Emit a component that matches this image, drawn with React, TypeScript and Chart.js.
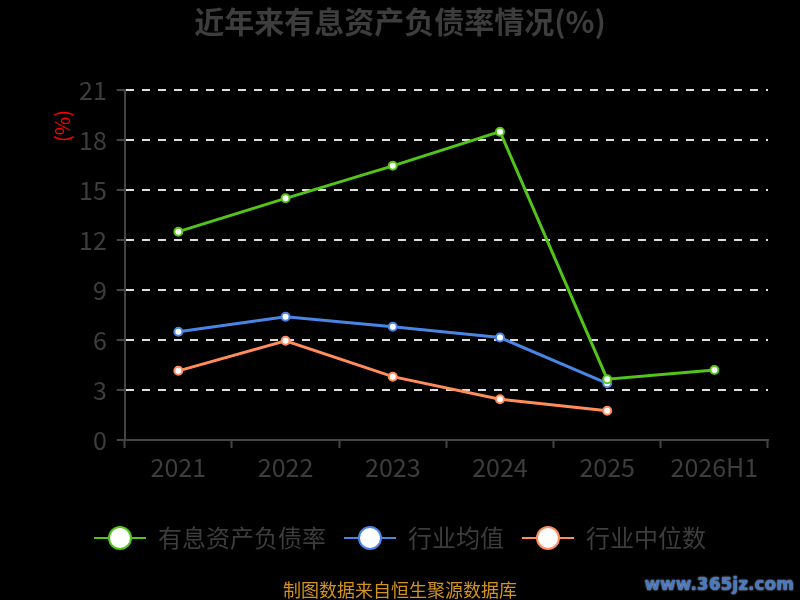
import React, { useEffect, useRef } from 'react';
import { Chart, registerables } from 'chart.js';

Chart.register(...registerables);

const categories = ['2021', '2022', '2023', '2024', '2025', '2026H1'];
const seriesNames = ['有息资产负债率', '行业均值', '行业中位数'];
const debtRatio = [12.5, 14.5, 16.45, 18.5, 3.65, 4.2];
const industryMean = [6.5, 7.4, 6.8, 6.15, 3.4, null];
const industryMedian = [4.15, 5.95, 3.8, 2.45, 1.75, null];
const seriesColors = ['#52c41a', '#4a85e6', '#ff8c5a'];
const yTicks = [0, 3, 6, 9, 12, 15, 18, 21];

const FONT = '"Noto Sans CJK SC", "Noto Sans", sans-serif';

// legend marker: short line with a big open circle
const makeMarker = (color: string) => {
  const c = document.createElement('canvas');
  c.width = 52;
  c.height = 26;
  const ctx = c.getContext('2d');
  if (ctx) {
    ctx.strokeStyle = color;
    ctx.lineWidth = 2;
    ctx.beginPath();
    ctx.moveTo(0, 13);
    ctx.lineTo(52, 13);
    ctx.stroke();
    ctx.beginPath();
    ctx.arc(26, 13, 11, 0, Math.PI * 2);
    ctx.fillStyle = '#ffffff';
    ctx.fill();
    ctx.lineWidth = 2;
    ctx.stroke();
  }
  return c;
};

const yTitlePlugin = {
  id: 'yTitle',
  afterDraw(chart: any) {
    const ctx = chart.ctx;
    ctx.save();
    ctx.translate(62, 126);
    ctx.rotate(-Math.PI / 2);
    ctx.fillStyle = '#ff0000';
    ctx.font = `20px ${FONT}`;
    ctx.textAlign = 'center';
    ctx.textBaseline = 'middle';
    ctx.fillText('(%)', 0, 0);
    ctx.restore();
  }
};

export default function App() {
  const chartRef = useRef<HTMLCanvasElement>(null);
  const chartInstance = useRef<Chart | null>(null);

  useEffect(() => {
    document.body.style.margin = '0';
    document.body.style.background = '#000';
    if (!chartRef.current) return;
    if (chartInstance.current) chartInstance.current.destroy();

    const markers = seriesColors.map(makeMarker);
    const mk = (i: number, data: (number | null)[]) => ({
      label: seriesNames[i],
      data,
      borderColor: seriesColors[i],
      backgroundColor: '#ffffff',
      borderWidth: 3,
      pointRadius: 4,
      pointBorderWidth: 2,
      pointBackgroundColor: '#ffffff',
      pointBorderColor: seriesColors[i],
      tension: 0,
      spanGaps: false
    });

    chartInstance.current = new Chart(chartRef.current, {
      type: 'line',
      data: {
        labels: categories,
        datasets: [mk(0, debtRatio), mk(1, industryMean), mk(2, industryMedian)]
      },
      options: {
        responsive: false,
        animation: false,
        layout: { padding: { left: 32, right: 32, top: 0, bottom: 40 } },
        plugins: {
          title: {
            display: true,
            text: '近年来有息资产负债率情况(%)',
            color: '#3d3d3d',
            font: { family: FONT, size: 30, weight: 'bold' },
            padding: { top: 4, bottom: 50 }
          },
          legend: {
            position: 'bottom',
            labels: {
              usePointStyle: true,
              pointStyleWidth: 52,
              boxHeight: 24,
              padding: 18,
              color: '#3d3d3d',
              font: { family: FONT, size: 24 },
              generateLabels: (chart: any) =>
                chart.data.datasets.map((ds: any, i: number) => ({
                  text: ds.label,
                  pointStyle: markers[i],
                  fillStyle: '#fff',
                  strokeStyle: seriesColors[i],
                  lineWidth: 0,
                  fontColor: '#3d3d3d',
                  hidden: false,
                  datasetIndex: i
                }))
            }
          },
          tooltip: { enabled: false }
        },
        scales: {
          x: {
            offset: true,
            afterFit: (scale: any) => {
              scale.height += 22;
            },
            border: { color: '#444', width: 2 },
            grid: {
              offset: true,
              drawOnChartArea: false,
              drawTicks: true,
              tickLength: 8,
              tickColor: '#444',
              tickWidth: 2
            },
            ticks: {
              color: '#3d3d3d',
              font: { family: FONT, size: 25 },
              padding: 4
            }
          },
          y: {
            min: 0,
            max: 21,
            afterBuildTicks: (axis: any) => {
              axis.ticks = yTicks.map(v => ({ value: v }));
            },
            afterFit: (scale: any) => {
              scale.width += 37;
            },
            border: { color: '#444', width: 2, dash: [8, 8] },
            grid: {
              color: (c: any) => (c.tick && c.tick.value === 0 ? 'rgba(0,0,0,0)' : '#dddddd'),
              lineWidth: 2,
              tickBorderDash: [],
              tickColor: '#444',
              tickLength: 8,
              tickWidth: 2
            },
            ticks: {
              color: '#3d3d3d',
              font: { family: FONT, size: 25 },
              padding: 10
            }
          }
        }
      },
      plugins: [yTitlePlugin]
    } as any);

    return () => {
      if (chartInstance.current) {
        chartInstance.current.destroy();
        chartInstance.current = null;
      }
    };
  }, []);

  return (
    <div style={{ position: 'relative', width: 800, height: 600, background: '#000', overflow: 'hidden' }}>
      <canvas ref={chartRef} width={800} height={600} style={{ width: 800, height: 600, display: 'block' }} />
      <div
        style={{
          position: 'absolute',
          left: 0,
          width: 800,
          top: 578,
          textAlign: 'center',
          color: '#d4921e',
          fontFamily: FONT,
          fontSize: 18,
          lineHeight: '22px'
        }}
      >
        制图数据来自恒生聚源数据库
      </div>
      <div
        style={{
          position: 'absolute',
          right: 6,
          top: 572,
          color: '#4a78c0',
          fontFamily: '"DejaVu Sans", sans-serif',
          fontWeight: 'bold',
          fontSize: 17,
          lineHeight: '24px',
          textShadow: '0 0 2px #c8d8f0'
        }}
      >
        www.365jz.com
      </div>
    </div>
  );
}
